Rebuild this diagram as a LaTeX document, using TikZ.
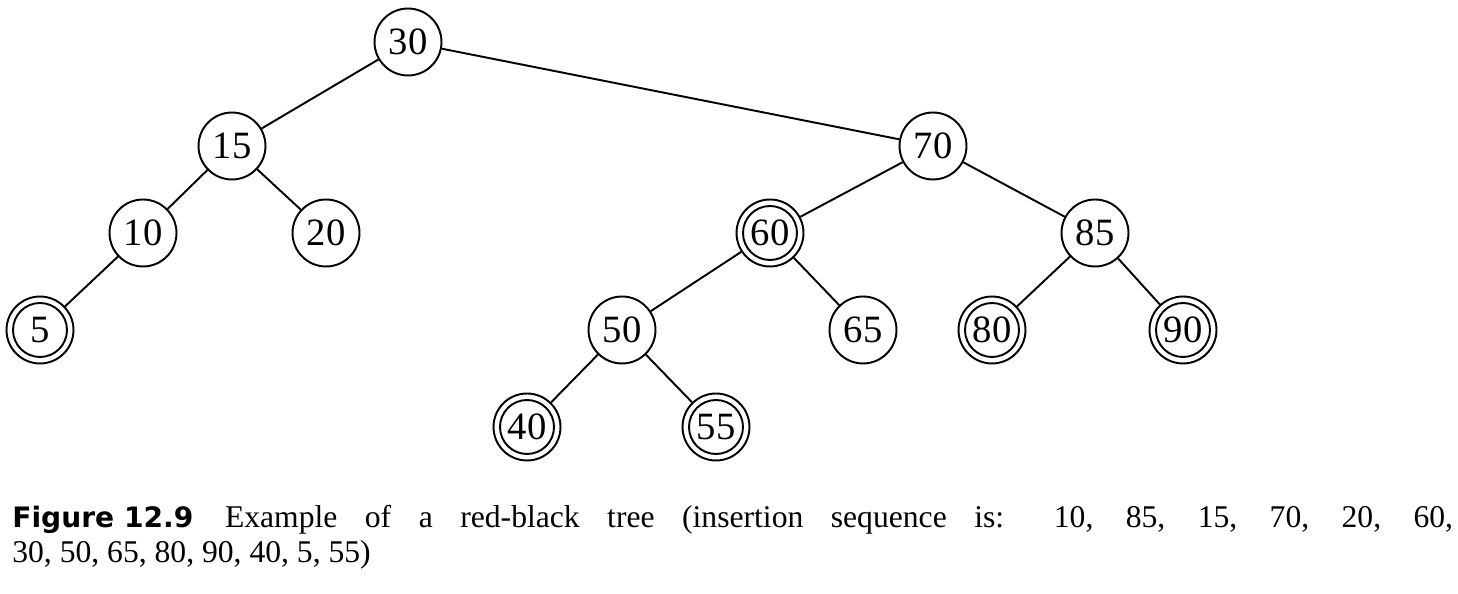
\documentclass[tikz,border=0pt]{standalone}
\usepackage{fontspec}
\setmainfont{Liberation Serif}
\newfontfamily\capfont{DejaVu Sans}
\usetikzlibrary{positioning}

\begin{document}
\begin{tikzpicture}[
      x=0.02cm, y=-0.02cm,
      vertex/.style={draw, circle, line width=1.1pt, minimum size=1.34cm, inner sep=0pt, font=\fontsize{22}{22}\selectfont},
      redv/.style={vertex, path picture={\draw[line width=1.1pt] (path picture bounding box.center) circle (0.54cm);}},
      edge/.style={line width=1.1pt},
      caption/.style={anchor=base west, inner sep=0pt, font=\fontsize{18}{18}\selectfont}
    ]
    \useasboundingbox (0,0) rectangle (1458,594);
    % black nodes
    \node[vertex] (n30) at (408,42) {30};
    \node[vertex] (n15) at (232,146) {15};
    \node[vertex] (n70) at (933,146) {70};
    \node[vertex] (n10) at (143,233) {10};
    \node[vertex] (n20) at (326,233) {20};
    \node[vertex] (n85) at (1095,233) {85};
    \node[vertex] (n50) at (622,330) {50};
    \node[vertex] (n65) at (863,330) {65};
    % red nodes
    \node[redv] (n60) at (770,233) {60};
    \node[redv] (n5) at (40,330) {5};
    \node[redv] (n80) at (992,330) {80};
    \node[redv] (n90) at (1183,330) {90};
    \node[redv] (n40) at (527,427) {40};
    \node[redv] (n55) at (716,427) {55};

    \foreach \a/\b in {30/15, 30/70, 15/10, 15/20, 10/5, 70/60, 70/85,
                       60/50, 60/65, 85/80, 85/90, 50/40, 50/55}
      \draw[edge] (n\a) -- (n\b);

    % caption
    \node[caption] (cap1) at (12,528)
      {\makebox[28.82cm][s]{\mbox{\fontsize{16}{16}\selectfont\capfont\bfseries Figure 12.9}\hspace{1em}Example of a red-black tree (insertion sequence is: 10, 85, 15, 70, 20, 60,}};
    \node[caption] (cap2) at (12,562)
      {30, 50, 65, 80, 90, 40, 5, 55)};
  \end{tikzpicture}
\end{document}
